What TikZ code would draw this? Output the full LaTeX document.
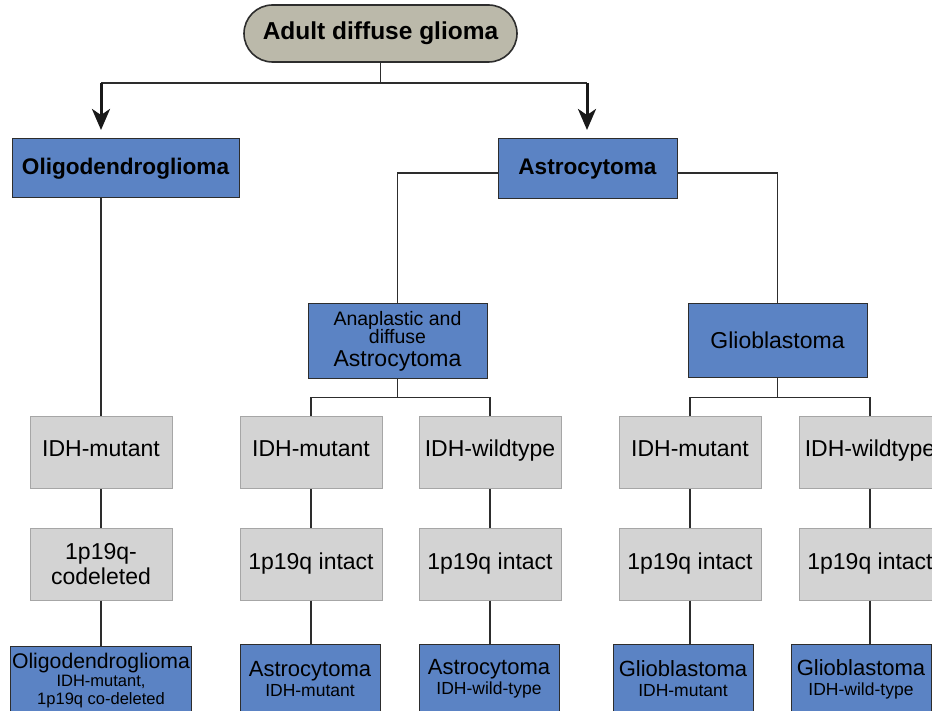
\documentclass[tikz,border=0pt]{standalone}
\usepackage{fontspec}
\setmainfont{Liberation Sans}
\usetikzlibrary{arrows,arrows.meta,positioning,calc,shapes.misc}

\definecolor{boxblue}{RGB}{91,131,196}
\definecolor{boxgray}{RGB}{211,211,211}
\definecolor{rootgray}{RGB}{187,185,170}
\definecolor{edgegray}{RGB}{45,45,45}

\newcommand{\fsz}[2]{\fontsize{#1}{#2}\selectfont}

\begin{document}
\begin{tikzpicture}[x=1pt, y=-1pt,
            every node/.style={draw=edgegray, line width=1pt, align=center, inner sep=2pt},
            typebox/.style={fill=boxblue, font=\fsz{22.6}{26}\bfseries},
            subbox/.style={fill=boxblue, minimum width=179, font=\fsz{23}{26}},
            markbox/.style={fill=boxgray, draw=black!35, minimum width=142, minimum height=72, font=\fsz{23}{25}},
            idhbox/.style={markbox, text height=17pt, text depth=10pt},
            leafbox/.style={fill=boxblue, minimum width=140, minimum height=70, font=\fsz{17.5}{20}},
            link/.style={draw=edgegray, line width=1.2pt},
            split/.style={draw=black!90, line width=3pt, -{Stealth[length=21pt, width=18pt, inset=6pt]}}]
        \useasboundingbox (0,0) rectangle (932,711);
        \clip (0,0) rectangle (932,711);

        \node[rounded rectangle, fill=rootgray, line width=1.6pt, minimum width=277, minimum height=57,
              font=\fsz{24.5}{28}\bfseries] (root) at (380.5,33.5) {Adult diffuse glioma};

        \node[typebox, minimum width=227, minimum height=59] (oligo) at (125.5,168.5) {Oligodendroglioma};
        \node[typebox, minimum width=179, minimum height=60] (astro) at (587.5,169) {Astrocytoma};

        \node[subbox, minimum height=74, font=\fsz{19.5}{18.5}] (anap) at (397.5,341)
              {Anaplastic and\\diffuse\\[4pt]{\fsz{23}{23}Astrocytoma}};
        \node[subbox, minimum height=73] (glio) at (777.5,340.5) {Glioblastoma};

        % marker rows
        \node[idhbox] (omut) at (101,452.5) {IDH-mutant};
        \node[idhbox] (amut) at (311,452.5) {IDH-mutant};
        \node[idhbox] (awt) at (490,452.5) {IDH-wildtype};
        \node[idhbox] (gmut) at (690,452.5) {IDH-mutant};
        \node[idhbox] (gwt) at (870,452.5) {IDH-wildtype};

        \node[markbox] (ocod) at (101,564) {1p19q-\\codeleted};
        \node[markbox] (aint) at (311,564) {1p19q intact};
        \node[markbox] (awint) at (490,564) {1p19q intact};
        \node[markbox] (gmint) at (690,564) {1p19q intact};
        \node[markbox] (gwint) at (870,564) {1p19q intact};

        % final types
        \node[leafbox, minimum width=180, font=\fsz{16.5}{18}] (oleaf) at (101,681)
              {{\fsz{21.2}{18}Oligodendroglioma}\\IDH-mutant,\\1p19q co-deleted};
        \node[leafbox] (aleaf) at (310,679) {{\fsz{22}{22}Astrocytoma}\\IDH-mutant};
        \node[leafbox] (awleaf) at (489,679) {{\fsz{22}{22}Astrocytoma}\\IDH-wild-type};
        \node[leafbox] (gmleaf) at (683,679) {{\fsz{22}{22}Glioblastoma}\\IDH-mutant};
        \node[leafbox] (gwleaf) at (861,679) {{\fsz{22}{22}Glioblastoma}\\IDH-wild-type};

        \coordinate (fork) at (380.5,83);
        \coordinate (lbend) at (101,83);
        \coordinate (rbend) at (587,83);
        \coordinate (ltip) at (101,130);
        \coordinate (rtip) at (587,130);
        \draw[link, line width=1.6pt] (root.south) -- (fork);
        \draw[link] (lbend) -- (rbend);
        \draw[split] (lbend) -- (ltip);
        \draw[split] (rbend) -- (rtip);

        \draw[link] (omut.north |- oligo.south) -- (omut.north);
        \draw[link] ([yshift=-4pt]astro.west) -| (anap.north);
        \draw[link] ([yshift=-4pt]astro.east) -| (glio.north);

        \draw[link] (anap.south) -- ++(0,19) coordinate (abar);
        \draw[link] (amut.north) |- (abar) -| (awt.north);
        \draw[link] (glio.south) -- ++(0,20) coordinate (gbar);
        \draw[link] (gmut.north) |- (gbar) -| (gwt.north);

        \draw[link] (omut) -- (ocod);
        \draw[link] (amut) -- (aint);
        \draw[link] (awt) -- (awint);
        \draw[link] (gmut) -- (gmint);
        \draw[link] (gwt) -- (gwint);

        \draw[link] (ocod.south) -- (ocod.south |- oleaf.north);
        \draw[link] (aint.south) -- (aint.south |- aleaf.north);
        \draw[link] (awint.south) -- (awint.south |- awleaf.north);
        \draw[link] (gmint.south) -- (gmint.south |- gmleaf.north);
        \draw[link] (gwint.south) -- (gwint.south |- gwleaf.north);
\end{tikzpicture}
\end{document}
